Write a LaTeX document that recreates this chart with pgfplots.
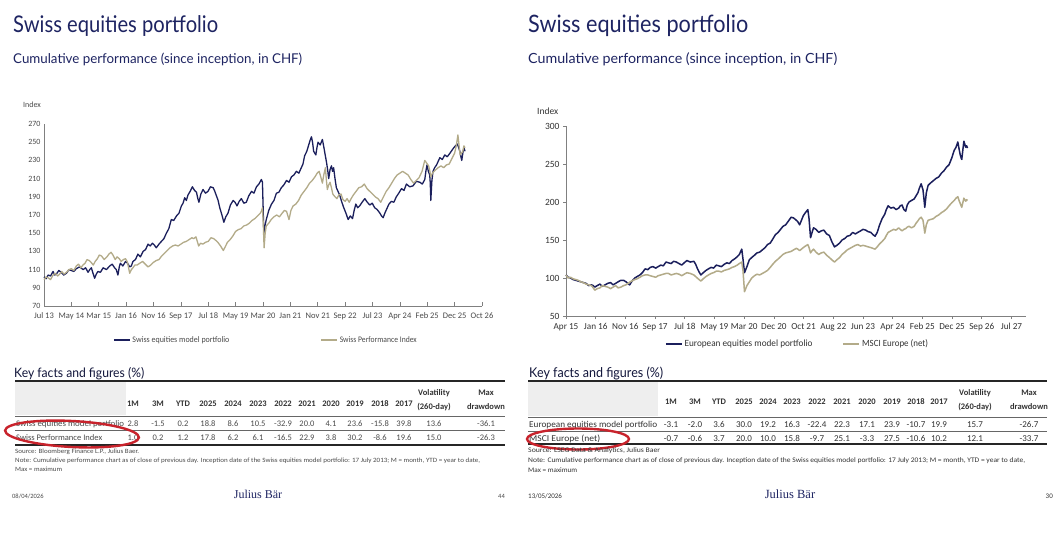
\documentclass[border=0pt]{standalone}
\usepackage{pgfplots}
\pgfplotsset{compat=1.18}
\usepackage{fontspec}
\setmainfont{Carlito}
\newfontfamily\titlefont{Lato}
\newfontfamily\logofont{Liberation Serif}
\newcommand{\fs}[2]{\fontsize{#1}{#2}\selectfont}
\definecolor{navy}{HTML}{1B1F5C}
\definecolor{beige}{HTML}{B3AB89}
\definecolor{titleblue}{HTML}{1E2462}
\definecolor{axgray}{HTML}{808080}
\definecolor{txt}{HTML}{333333}
\definecolor{txtl}{HTML}{4A4A4A}
\definecolor{hdrgray}{HTML}{EEEEEE}
\definecolor{ellred}{HTML}{C8232C}

\pgfplotstableread{
m v
0 102
0.75 100
1.5 104
2.4 103
3.3 108
3.9 104
4.5 105
5.4 109
6.3 107
7.2 104
8.2 106
9.1 110
10 109
10.9 108
11.8 111
13 113
14.3 110
15.2 112
16.1 107
16.7 110
17.3 112
17.9 106
18.5 100.5
19.1 105
19.7 108
20.6 107
21.6 112
22.8 110
24 114
24.9 116
25.8 112
26.4 110
27 104
27.5 113
27.9 117
28.8 114
29.8 119
30.5 117
31.3 113
31.9 114
32.5 119
33.4 121
34.3 127
35.2 124
36.2 130
37.1 132
38 138
38.8 136
39.6 139
40.3 137
41 134
42 138
42.9 141
43.8 144
44.7 150
45.6 155
46.5 165
47.4 164
48.4 169
49.3 172
50.2 180
50.8 183
51.4 189
52 186
52.6 192
53.4 196
54.2 201
55 197
55.7 195
56.2 188
56.6 184
57.3 193
58.1 198
59 194
59.9 196
60.8 201
61.8 200
62.4 196
63 191
63.6 186
64.2 178
65 170
65.7 162
66.4 168
67.2 172
68.1 181
69.1 186
69.8 184
70.5 180
71.3 185
72.1 188
73 183
73.9 184
74.8 191
75.8 196
76.7 194
77.6 201
78.5 204
79.4 209
79.8 206
80.3 150
80.7 158
81.2 165
82.1 175
83.1 182
84 186
84.9 194
85.8 195
86.7 200
87.6 203
88.6 208
89.5 206
90.4 212
91.3 214
92.2 218
93.1 216
94 222
94.6 226
95.2 235
96 240
96.8 248
97.2 252
97.7 256
98.1 250
98.5 240
98.9 238
99.3 236
99.7 244
100.1 250
100.9 247
101.7 253
102.2 245
102.6 238
103.2 228
103.6 220
104 210
104.5 220
105 224
105.4 218
105.8 222
106.3 210
106.8 200
107.4 196
108 192
108.7 185
109.5 178
110.3 172
111.1 165
111.9 169
112.7 166
113.3 175
113.9 182
114.6 178
115.3 180
116.2 184
117.2 188
118.1 184
119 181
119.9 183
120.8 178
121.7 176
122.7 172
123.3 169
123.9 167
124.5 172
125.1 176
126 182
126.9 185
127.8 184
128.7 190
129.6 194
130.6 199
131.5 197
132.4 204
133.6 201
134.8 202
136 207
137.3 206
138.2 204
139.1 209
139.5 218
139.9 225
140.4 218
140.9 214
141.1 205
141.3 186
141.7 208
142.1 218
142.7 222
143.4 225
144 229
144.6 233
145.5 231
146.4 236
147.3 234
148.3 238
149 241
149.7 244
150.3 246
151 248
151.5 244
151.9 240
152.3 234
152.6 230
153 238
153.4 244
153.8 240
}\leftmodel

\pgfplotstableread{
m v
0 99
0.75 102
1.5 101
2.4 99
3.3 104
4.1 106
5 103
5.7 105
6.5 108
7.3 105
8.2 107
9.1 110
10 111
10.9 109
11.8 114
12.6 116
13.5 112
14.2 115
15 117
15.7 121
16.5 120
17.2 118
18 115
18.7 119
19.5 122
20.2 126
21 125
22 121
23 124
23.7 127
24.5 129
25.2 126
26 121
26.7 124
27.5 122
28.2 119
29 121
29.8 122
30.5 118
30.9 112
31.3 106
31.9 110
32.5 112
33.2 115
34 115
35 117
36 119
37 116
38 113
39 115
40 118
41 120
42 121
43 125
44 128
45 131
46 134
47 136
48 137
49 136
50 138
51 140
52 141
53 143
54 145
54.7 144
55.5 146
56 141
56.5 136
57.2 139
58 138
59 140
60 141
61 145
62 144
62.8 142
63.5 140
64.5 136
65.5 131
66.2 135
67 140
68 143
69 147
70 152
71 154
72 155
73 158
74 159
75 161
76 164
77 166
78 169
79 172
79.4 174
79.8 178
80.1 160
80.4 134
80.8 150
81.2 158
82.1 161
83 165
84 168
85 170
86 168
87 172
87.8 175
88.6 174
89 170
89.5 165
90.2 175
91 180
92 182
93 186
94 192
95 196
96 200
97 205
98 208
99 212
99.8 216
100.5 218
101.1 212
101.7 205
102.2 214
102.8 222
103.1 210
103.5 198
104 203
104.5 206
105 200
105.5 193
106.3 190
107 188
107.7 192
108.5 193
109.2 187
110 185
110.7 188
111.5 184
112.2 188
113 192
114 196
115 200
116 201
117 204
118 199
119 196
120 193
121 190
122 188
123 184
124 190
125 196
126 200
127 205
128 210
129 214
130 216
131 218
132 216
133 214
134 209
135 205
136 208
137 211
138.1 218
139.1 230
139.8 227
140.5 224
140.9 219
141.3 212
141.9 216
142.5 218
143.2 220
144 222
145 224
146 222
147 225
148 226
149 232
150 238
150.6 246
151.2 258
151.6 247
152 236
152.5 238
153 240
153.4 246
153.8 244
}\leftindex

\pgfplotstableread{
m v
0 104
0.7 101
1.5 100
2.3 98
3.2 97
4 96
4.9 95
5.7 94
6.6 93
7.5 90
8.4 91
9 90
9.5 88
10.3 90
11.2 92
12 89
12.9 91
13.8 93
14.7 94
15.5 91
16.4 93
17.2 95
18.1 97
19 97
19.8 95
20.4 93
21 91
21.8 96
22.7 100
23.5 102
24.4 104
25.2 107
26.1 112
27 111
27.8 114
28.7 115
29.6 113
30.4 115
31.3 117
32.1 116
33 121
33.8 120
34.7 119
35.5 122
36.4 121
37.3 119
38.2 117
39 120
39.9 123
41 121
42.2 122
42.8 118
43.3 113
43.9 108
44.5 104
45.3 107
46.2 110
47 112
47.9 114
48.7 113
49.6 117
50.4 116
51.3 115
52.2 118
53.1 120
53.9 119
54.8 123
55.6 125
56.5 128
57.2 131
58 138
58.4 125
58.9 107
59.7 115
60.5 124
61.3 127
62.2 130
63 133
63.9 134
64.8 137
65.7 140
66.5 144
67.4 146
68.2 151
69.1 157
70 160
70.8 164
71.6 168
72.5 170
73.4 175
74.3 180
75.1 179
76 176
76.5 174
77.1 170
77.7 176
78.3 182
79 186
79.8 190
80.2 178
80.7 153
81.2 160
81.7 166
82.5 164
83.4 160
84.2 162
85.1 163
86 158
86.9 156
87.7 148
88.6 141
89.4 143
90.3 146
91.1 150
92 152
92.8 155
93.7 156
94.6 160
95.5 158
96.3 160
97.2 162
98 164
98.9 163
99.7 161
100.6 160
101.3 157
102 155
102.7 160
103.5 170
104.3 178
105.2 184
105.7 190
106.3 195
107.2 192
108.1 193
108.9 190
109.8 192
110.3 195
110.9 196
111.5 190
112.1 188
112.6 196
113.2 200
114 202
114.9 204
115.5 208
116.1 212
116.6 218
117.2 224
117.5 220
117.8 216
118.1 205
118.4 193
118.9 212
119.5 222
120.3 225
121.2 228
122.1 231
123 233
123.9 238
124.7 241
125.6 246
126.4 249
127.3 258
128.1 268
128.7 272
129.3 279
129.7 270
130.1 262
130.4 258
130.6 256
131 270
131.3 280
131.6 276
131.9 272
132.2 274
132.5 271
}\rightmodel

\pgfplotstableread{
m v
0 104
0.7 100
1.5 101
2.3 99
3.2 98
4 97
4.9 95
5.7 94
6.6 92
7.5 91
8.4 90
9 87
9.5 84
10.3 86
11.2 87
12 90
12.9 89
13.8 88
14.7 86
15.5 88
16.4 90
17.2 87
18.1 88
19 90
19.8 91
21.2 95
22.7 98
23.5 99
24.4 101
25.2 103
26.1 104
27 104
27.8 103
28.7 102
29.6 101
30.4 103
31.3 104
32.1 105
33 106
33.8 106
34.7 104
35.5 105
36.4 106
37.3 105
38.2 103
39 105
39.9 107
41 106
42.2 104
43.3 100
44.5 96
45.3 99
46.2 102
47 104
47.9 106
48.7 107
49.6 109
50.4 109
51.3 108
52.2 110
53.1 111
53.9 112
54.8 114
55.6 115
56.5 117
57.2 119
58 121
58.4 110
58.9 82
59.7 90
60.5 95
61.3 100
62.2 103
63 105
63.9 104
64.8 106
65.7 108
66.5 110
67.4 114
68.2 118
69.1 122
70 125
70.8 128
71.6 131
72.5 133
73.4 134
74.3 135
75.1 137
76 139
76.5 138
77.1 136
77.7 138
78.3 140
79 142
79.8 144
80.2 140
80.7 133
81.2 136
81.7 138
82.5 134
83.4 131
84.2 133
85.1 134
86 130
86.9 127
87.7 124
88.6 121
89.4 124
90.3 127
91.1 131
92 134
92.8 137
93.7 139
94.6 141
95.5 143
96.3 144
97.2 142
98 143
98.9 142
99.7 141
100.6 140
101.3 139
102 138
102.7 141
103.5 145
104.3 148
105.2 152
105.7 156
106.3 160
107.2 162
108.1 164
108.9 163
109.8 166
110.3 164
110.9 162
111.5 164
112.1 165
112.6 167
113.2 168
114 166
114.9 168
115.5 172
116.1 175
116.6 178
117.2 180
117.5 178
117.8 176
118.1 168
118.4 159
118.9 170
119.5 176
120.3 177
121.2 178
122.1 181
123 183
123.9 186
124.7 188
125.6 191
126.4 195
127.3 199
128.1 202
128.7 205
129.3 207
129.7 202
130.1 198
130.4 195
130.6 193
131 200
131.3 205
131.6 203
131.9 201
132.2 203
132.5 202
}\rightindex

\begin{document}
\begin{tikzpicture}[x=1pt,y=1pt]
\path[use as bounding box, fill=white] (0,0) rectangle (1062,-533);

% ---------- titles ----------
\node[anchor=base west, inner sep=0, text=titleblue] at (13,-32) {\resizebox{205pt}{\height}{\titlefont\fs{23}{27}Swiss equities portfolio}};
\node[anchor=base west, inner sep=0, text=titleblue] at (13,-63) {\resizebox{289pt}{\height}{\titlefont\fs{13.5}{16}Cumulative performance (since inception, in CHF)}};
\node[anchor=base west, inner sep=0, text=titleblue] at (528,-32) {\resizebox{220pt}{\height}{\titlefont\fs{24}{28}Swiss equities portfolio}};
\node[anchor=base west, inner sep=0, text=titleblue] at (528,-63) {\resizebox{309pt}{\height}{\titlefont\fs{14}{17}Cumulative performance (since inception, in CHF)}};

% ---------- left chart ----------
\node[anchor=west, inner sep=0, text=txtl] at (23,-105) {\fs{8}{9}Index};
\begin{axis}[at={(44pt,-306pt)}, anchor=south west, scale only axis,
  width=438pt, height=182pt,
  xmin=0, xmax=160, ymin=70, ymax=270,
  axis x line=bottom, axis y line=left,
  axis line style={draw=axgray, line width=0.7pt, -},
  xtick={0,10,...,160},
  xticklabels={Jul 13,May 14,Mar 15,Jan 16,Nov 16,Sep 17,Jul 18,May 19,Mar 20,Jan 21,Nov 21,Sep 22,Jul 23,Apr 24,Feb 25,Dec 25,Oct 26},
  ytick={70,90,...,270},
  tick align=inside, major tick length=4pt,
  tick style={draw=axgray, line width=0.6pt},
  ytick style={draw=none},
  /pgf/number format/assume math mode=true,
  xticklabel style={font=\fs{8.5}{10}, text=txtl, yshift=-3pt},
  yticklabel style={font=\fs{8}{9}, text=txtl},
  legend style={at={(axis description cs:0.1575,-0.187)}, anchor=west, draw=none, fill=none,
    inner sep=0pt, font=\fs{8.5}{10}, text=txtl, legend columns=2,
    /tikz/every even column/.append style={column sep=89pt}},
  legend image code/.code={\draw[#1] (0pt,0pt) -- (16pt,0pt);},
  clip=false]
\addplot[navy, line width=1.3pt, line join=round] table[x=m,y=v] {\leftmodel};
\addlegendentry{\resizebox{97pt}{\height}{Swiss equities model portfolio}}
\addplot[beige, line width=1.3pt, line join=round] table[x=m,y=v] {\leftindex};
\addlegendentry{\resizebox{77pt}{\height}{Swiss Performance Index}}
\end{axis}

% ---------- right chart ----------
\node[anchor=west, inner sep=0, text=txt] at (537,-111) {\fs{9.5}{11}Index};
\begin{axis}[at={(566pt,-316pt)}, anchor=south west, scale only axis,
  width=460pt, height=190pt,
  xmin=0, xmax=151.8, ymin=50, ymax=300,
  axis x line=bottom, axis y line=left,
  axis line style={draw=axgray, line width=0.7pt, -},
  xtick={0,9.8,19.6,29.4,39.2,49,58.8,68.6,78.4,88.2,98,107.8,117.6,127.4,137.2,147},
  xticklabels={Apr 15,Jan 16,Nov 16,Sep 17,Jul 18,May 19,Mar 20,Dec 20,Oct 21,Aug 22,Jun 23,Apr 24,Feb 25,Dec 25,Sep 26,Jul 27},
  ytick={50,100,...,300},
  tick align=outside, major tick length=3pt,
  tick style={draw=axgray, line width=0.6pt},
  /pgf/number format/assume math mode=true,
  xticklabel style={font=\fs{9.2}{11}, text=txt, yshift=-1pt},
  yticklabel style={font=\fs{9.5}{11}, text=txt},
  legend style={at={(axis description cs:0.215,-0.147)}, anchor=west, draw=none, fill=none,
    inner sep=0pt, font=\fs{9.5}{11}, text=txt, legend columns=2,
    /tikz/every even column/.append style={column sep=28pt}},
  legend image code/.code={\draw[#1] (0pt,0pt) -- (16pt,0pt);},
  clip=false]
\addplot[navy, line width=1.5pt, line join=round] table[x=m,y=v] {\rightmodel};
\addlegendentry{\resizebox{128pt}{\height}{European equities model portfolio}}
\addplot[beige, line width=1.5pt, line join=round] table[x=m,y=v] {\rightindex};
\addlegendentry{\resizebox{66pt}{\height}{MSCI Europe (net)}}
\end{axis}

% ---------- left table ----------
\node[anchor=base west, inner sep=0, text=titleblue!60!black] at (14,-377) {\resizebox{130pt}{\height}{\titlefont\fs{13}{15}Key facts and figures (\%)}};
\fill[hdrgray] (15,-382) rectangle (126,-415);
\draw[black!85, line width=1.4pt] (15,-381) -- (505,-381);
\draw[black!60, line width=0.5pt] (15,-416) -- (505,-416);
\draw[black!60, line width=0.5pt] (15,-430) -- (505,-430);
\draw[black!85, line width=1.4pt] (15,-445) -- (505,-445);
\foreach \x/\t in {133/1M,158/3M,183/YTD,208/2025,233/2024,258/2023,283/2022,307/2021,331/2020,355/2019,380/2018,404/2017}
  \node[anchor=base, inner sep=0, text=txt, font=\bfseries\fs{8.5}{10}] at (\x,-406) {\t};
\node[inner sep=0, text=txt, font=\bfseries\fs{8.5}{14}, align=center] at (434,-400) {Volatility\\(260-day)};
\node[inner sep=0, text=txt, font=\bfseries\fs{8.5}{14}, align=center] at (486,-400) {Max\\drawdown};
\node[anchor=base west, inner sep=0, text=txtl] at (16,-426) {\resizebox{108pt}{\height}{\fs{8.5}{10}Swiss equities model portfolio}};
\node[anchor=base west, inner sep=0, text=txtl] at (16,-440) {\resizebox{86pt}{\height}{\fs{8.5}{10}Swiss Performance Index}};
\foreach \x/\v in {133/2.8,158/-1.5,183/0.2,208/18.8,233/8.6,258/10.5,283/-32.9,307/20.0,331/4.1,355/23.6,380/-15.8,404/39.8,434/13.6,486/-36.1}
  \node[anchor=base, inner sep=0, text=txtl, font=\fs{8.5}{10}] at (\x,-426) {\v};
\foreach \x/\v in {133/1.0,158/0.2,183/1.2,208/17.8,233/6.2,258/6.1,283/-16.5,307/22.9,331/3.8,355/30.2,380/-8.6,404/19.6,434/15.0,486/-26.3}
  \node[anchor=base, inner sep=0, text=txtl, font=\fs{8.5}{10}] at (\x,-440) {\v};
\draw[ellred, line width=2.4pt, rotate around={-3:(72,-434)}] (72,-434) ellipse [x radius=67, y radius=13];
\node[anchor=base west, inner sep=0, text=txtl] at (15,-453) {\resizebox{124pt}{\height}{\fs{6.5}{8}Source: Bloomberg Finance L.P., Julius Baer.}};
\node[anchor=base west, inner sep=0, text=txtl] at (15,-462) {\resizebox{465pt}{\height}{\fs{6.5}{8}Note: Cumulative performance chart as of close of previous day. Inception date of the Swiss equities model portfolio: 17 July 2013; M = month, YTD = year to date,}};
\node[anchor=base west, inner sep=0, text=txtl] at (15,-471) {\resizebox{47pt}{\height}{\fs{6.5}{8}Max = maximum}};

% ---------- right table ----------
\node[anchor=base west, inner sep=0, text=titleblue!60!black] at (529,-377) {\resizebox{134pt}{\height}{\titlefont\fs{13.5}{15}Key facts and figures (\%)}};
\fill[hdrgray] (528,-382) rectangle (658,-416);
\draw[black!85, line width=1.4pt] (528,-381) -- (1047,-381);
\draw[black!60, line width=0.5pt] (528,-417) -- (1047,-417);
\draw[black!60, line width=0.5pt] (528,-431) -- (1047,-431);
\draw[black!85, line width=1.4pt] (528,-444) -- (1047,-444);
\foreach \x/\t in {671/1M,695/3M,719/YTD,744/2025,768/2024,792/2023,817/2022,842/2021,867/2020,892/2019,916/2018,939/2017}
  \node[anchor=base, inner sep=0, text=txt, font=\bfseries\fs{8.5}{10}] at (\x,-404) {\t};
\node[inner sep=0, text=txt, font=\bfseries\fs{8.5}{14}, align=center] at (975,-400) {Volatility\\(260-day)};
\node[inner sep=0, text=txt, font=\bfseries\fs{8.5}{14}, align=center] at (1029,-400) {Max\\drawdown};
\node[anchor=base west, inner sep=0, text=txt] at (529,-427.5) {\resizebox{128pt}{\height}{\fs{9}{10}European equities model portfolio}};
\node[anchor=base west, inner sep=0, text=txt] at (529,-441) {\resizebox{71pt}{\height}{\fs{9}{10}MSCI Europe (net)}};
\foreach \x/\v in {671/-3.1,695/-2.0,719/3.6,744/30.0,768/19.2,792/16.3,817/-22.4,842/22.3,867/17.1,892/23.9,916/-10.7,939/19.9,975/15.7,1029/-26.7}
  \node[anchor=base, inner sep=0, text=txt, font=\fs{9}{10}] at (\x,-427.5) {\v};
\foreach \x/\v in {671/-0.7,695/-0.6,719/3.7,744/20.0,768/10.0,792/15.8,817/-9.7,842/25.1,867/-3.3,892/27.5,916/-10.6,939/10.2,975/12.1,1029/-33.7}
  \node[anchor=base, inner sep=0, text=txt, font=\fs{9}{10}] at (\x,-441) {\v};
\draw[ellred, line width=2.4pt] (578,-439) ellipse [x radius=51, y radius=10.5];
\node[anchor=base west, inner sep=0, text=txt] at (528,-452) {\resizebox{132pt}{\height}{\fs{7}{8}Source: LSEG Data \& Analytics, Julius Baer}};
\node[anchor=base west, inner sep=0, text=txt] at (528,-462) {\resizebox{497pt}{\height}{\fs{7}{8}Note: Cumulative performance chart as of close of previous day. Inception date of the Swiss equities model portfolio: 17 July 2013; M = month, YTD = year to date,}};
\node[anchor=base west, inner sep=0, text=txt] at (528,-472) {\resizebox{49pt}{\height}{\fs{7}{8}Max = maximum}};

% ---------- footers ----------
\node[anchor=west, inner sep=0, text=txtl] at (12,-496) {\fs{6.5}{8}08/04/2026};
\node[inner sep=0, text=titleblue] at (258,-494) {\logofont\fs{12}{14}Julius Bär};
\node[anchor=east, inner sep=0, text=txtl] at (505,-496) {\fs{6.5}{8}44};
\node[anchor=west, inner sep=0, text=txt] at (528,-496) {\fs{7}{8}13/05/2026};
\node[inner sep=0, text=titleblue] at (790,-494) {\logofont\fs{12.5}{14}Julius Bär};
\node[anchor=east, inner sep=0, text=txt] at (1053,-496) {\fs{7}{8}30};
\end{tikzpicture}
\end{document}
